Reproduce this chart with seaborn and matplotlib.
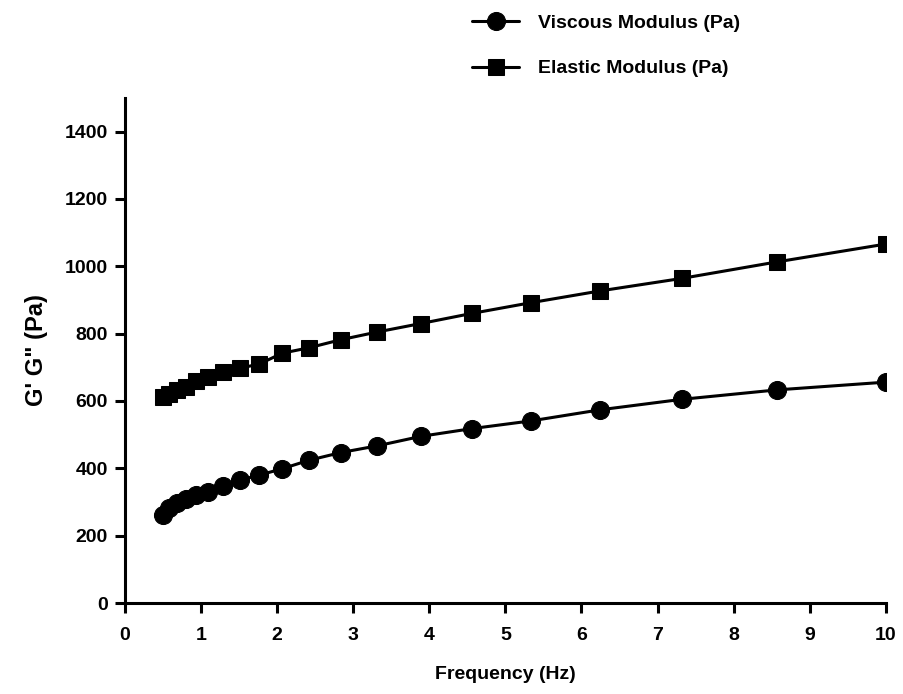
import matplotlib
matplotlib.use("Agg")
import matplotlib.pyplot as plt
import seaborn as sns
import pandas as pd

freq = [0.5, 0.585, 0.685, 0.802, 0.939, 1.10, 1.29, 1.51, 1.77, 2.07,
        2.42, 2.84, 3.32, 3.89, 4.56, 5.34, 6.25, 7.32, 8.57, 10.0]
viscous = [262, 283, 298, 309, 320, 331, 347, 365, 380, 399,
           424, 447, 467, 495, 518, 541, 574, 605, 633, 656]
elastic = [611, 622, 632, 642, 660, 670, 685, 697, 710, 742,
           758, 782, 805, 830, 860, 892, 927, 964, 1013, 1066]
labels = ["Viscous Modulus (Pa)", "Elastic Modulus (Pa)"]
xticks = list(range(0, 11))
yticks = [0, 200, 400, 600, 800, 1000, 1200, 1400]

sns.set_style("ticks")
plt.rcParams['font.family'] = ['Liberation Sans', 'DejaVu Sans']
plt.rcParams['font.weight'] = 'bold'
plt.rcParams['text.color'] = 'black'
plt.rcParams['axes.labelcolor'] = 'black'
plt.rcParams['xtick.color'] = 'black'
plt.rcParams['ytick.color'] = 'black'

fig = plt.figure(figsize=(9.04, 6.94), dpi=100)
ax = fig.add_axes([0.138, 0.131, 0.842, 0.728])

df_v = pd.DataFrame({"x": freq, "y": viscous})
df_e = pd.DataFrame({"x": freq, "y": elastic})
sns.lineplot(data=df_v, x="x", y="y", ax=ax, color="black", marker="o",
             markersize=13, linewidth=2.2, markeredgecolor="black", label=labels[0])
sns.lineplot(data=df_e, x="x", y="y", ax=ax, color="black", marker="s",
             markersize=12, linewidth=2.2, markeredgecolor="black", label=labels[1])

ax.set_xlim(0, 10)
ax.set_ylim(0, 1500)
ax.set_xticks(xticks)
ax.set_yticks(yticks)
ax.tick_params(axis="both", width=2.2, length=7, labelsize=14, color="black",
               labelcolor="black")
ax.tick_params(axis="x", pad=10)
ax.tick_params(axis="y", pad=5)
for lab in ax.get_xticklabels() + ax.get_yticklabels():
    lab.set_fontweight("bold")
for side in ["top", "right"]:
    ax.spines[side].set_visible(False)
for side in ["left", "bottom"]:
    ax.spines[side].set_linewidth(2.2)
    ax.spines[side].set_color("black")

ax.set_xlabel("Frequency (Hz)", fontsize=14, fontweight="bold", labelpad=16)
ax.set_ylabel("G' G\" (Pa)", fontsize=17, fontweight="bold", labelpad=12)

leg = ax.legend(loc="upper left", bbox_to_anchor=(0.503, 1.005),
                bbox_transform=fig.transFigure, frameon=False,
                fontsize=14, handlelength=2.4, labelspacing=1.45,
                handletextpad=1.0, markerscale=1.0)
for t in leg.get_texts():
    t.set_fontweight("bold")
    t.set_color("black")

fig.savefig("out.png", dpi=100)
